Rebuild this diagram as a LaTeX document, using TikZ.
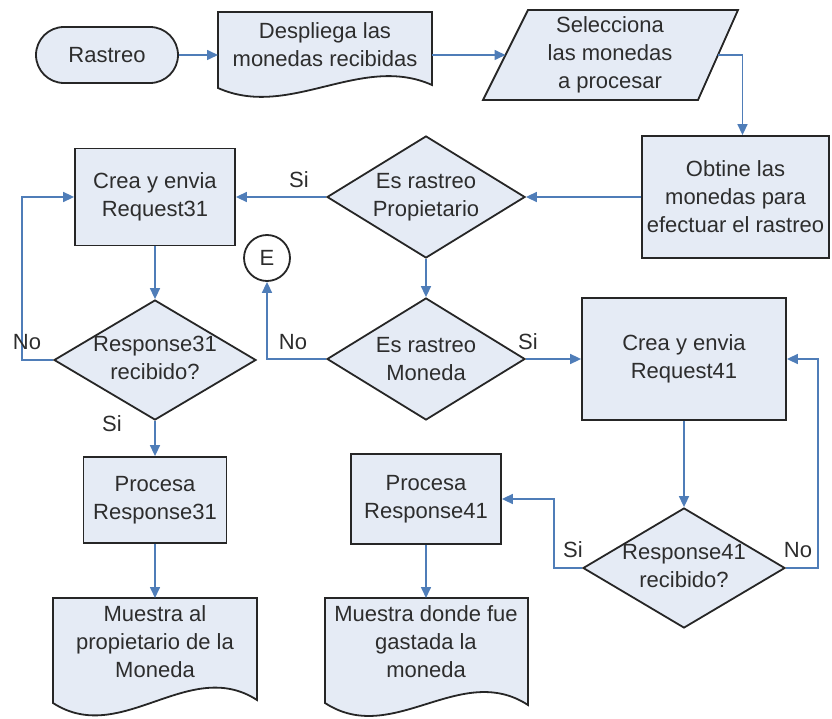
\documentclass[tikz,border=0pt]{standalone}
\usepackage{fontspec}
\setmainfont{Liberation Sans}
\usetikzlibrary{arrows.meta,shapes.geometric,shapes.misc}

\definecolor{boxfill}{RGB}{229,235,245}
\definecolor{flowblue}{RGB}{79,125,184}
\definecolor{edgegrey}{RGB}{38,38,38}
\definecolor{inkgrey}{RGB}{45,45,45}

\tikzset{
  txt/.style={align=center, text=inkgrey, inner sep=0pt,
              font=\fontsize{22}{28}\selectfont},
  shapebox/.style={fill=boxfill, draw=edgegrey, line width=1.8pt, line join=miter},
  procbox/.style={shapebox, rectangle, txt},
  decision/.style={shapebox, diamond, inner sep=0pt},
  terminal/.style={shapebox, rounded rectangle, txt},
  connector/.style={shapebox, circle, fill=white, txt},
  flow/.style={draw=flowblue, line width=1.6pt,
               -{Triangle[length=11pt,width=10pt]}},
  flowlabel/.style={txt}
}

% document symbol: left, top, right, bottom at left edge, bottom at right edge
\newcommand\docshape[5]{%
  \filldraw[shapebox] (#1,#2) -- (#3,#2) -- (#3,#5)
    .. controls ({#3-(#3-#1)/3},{#5-0.42*(#4-#2)}) and ({#1+(#3-#1)/3},{#4+0.42*(#4-#2)}) ..
    (#1,#4) -- cycle;}

\begin{document}
\begin{tikzpicture}[x=1pt,y=-1pt]
\useasboundingbox (0,0) rectangle (832,719);

% ---- top row
\node[terminal, minimum width=142, minimum height=56] (rastreo) at (107,55) {Rastreo};

\docshape{218}{12}{432}{88}{85}
\node[txt] (desp) at (325,45) {Despliega las\\monedas recibidas};
\coordinate (despin) at (218,55);
\coordinate (despout) at (432,55);

\filldraw[shapebox] (528,10) -- (738,10) -- (698,100) -- (483,100) -- cycle;
\node[txt] (sel) at (610,55) {Selecciona\\las monedas\\a procesar};
\coordinate (selin) at (505.5,55);
\coordinate (selout) at (718,55);

\node[procbox, minimum width=187, minimum height=122] (obt) at (735.5,197)
  {Obtine las\\monedas para\\efectuar el rastreo};

% ---- decisions in the middle column
\node[decision, minimum width=198, minimum height=122] (prop) at (426,197) {};
\node[txt] at (prop) {Es rastreo\\Propietario};

\node[decision, minimum width=198, minimum height=122] (mon) at (426,359) {};
\node[txt] at (mon) {Es rastreo\\Moneda};

\node[connector, minimum size=46] (E) at (267,258) {E};

% ---- left branch
\node[procbox, minimum width=160, minimum height=97] (req31) at (155,197)
  {Crea y envia\\Request31};
\node[decision, minimum width=202, minimum height=120] (r31) at (155,360) {};
\node[txt] at (155,358) {Response31\\recibido?};
\node[procbox, minimum width=143, minimum height=86] (p31) at (155,500)
  {Procesa\\Response31};
\docshape{53}{598}{257}{703}{700}
\node[txt] (m31) at (155,642) {Muestra al\\propietario de la\\Moneda};
\coordinate (m31top) at (155,598);

% ---- right branch
\node[procbox, minimum width=204, minimum height=122] (req41) at (684,359)
  {Crea y envia\\Request41};
\node[decision, minimum width=202, minimum height=120] (r41) at (684,568) {};
\node[txt] at (684,566) {Response41\\recibido?};
\node[procbox, minimum width=150, minimum height=90] (p41) at (426,499)
  {Procesa\\Response41};
\docshape{325}{598}{528}{703}{705}
\node[txt] (m41) at (426,642) {Muestra donde fue\\gastada la\\moneda};
\coordinate (m41top) at (426,598);

% ---- connectors
\draw[flow] (rastreo.east) -- (despin);
\draw[flow] (despout) -- (selin);
\draw[flow] (selout) -| ([xshift=7pt]obt.north);
\draw[flow] (obt.west) -- (prop.east);
\draw[flow] (prop.west) -- (req31.east);
\draw[flow] (prop.south) -- (mon.north);
\draw[flow] (req31.south) -- (r31.north);
\draw[flow] (r31.west) -- ++(-31,0) |- (req31.west);
\draw[flow] (r31.south) -- (p31.north);
\draw[flow] (p31.south) -- (m31top);
\draw[flow] (mon.west) -| (E.south);
\draw[flow] (mon.east) -- (req41.west);
\draw[flow] (req41.south) -- (r41.north);
\draw[flow] (r41.east) -- ++(32,0) |- (req41.east);
\draw[flow] (r41.west) -- ++(-28,0) |- (p41.east);
\draw[flow] (p41.south) -- (m41top);

% ---- branch labels
\node[flowlabel] (siprop) at (299,180) {Si};
\node[flowlabel] (no31) at (27,342) {No};
\node[flowlabel] (si31) at (112,424) {Si};
\node[flowlabel] (nomon) at (293,342) {No};
\node[flowlabel] (simon) at (528,342) {Si};
\node[flowlabel] (no41) at (798,550) {No};
\node[flowlabel] (si41) at (573,550) {Si};
\end{tikzpicture}
\end{document}
